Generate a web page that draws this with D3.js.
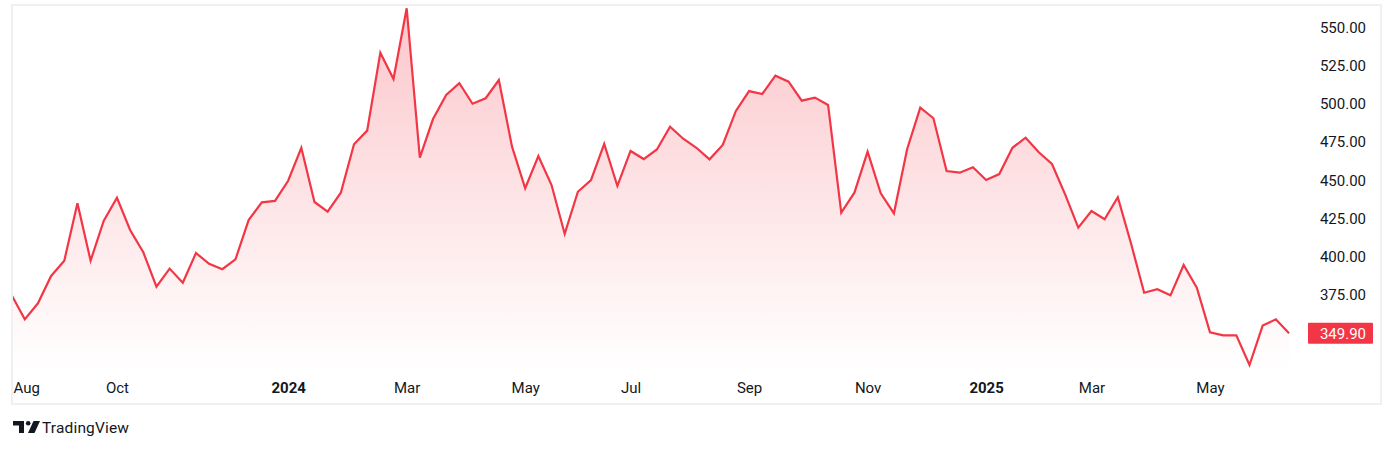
<!DOCTYPE html>
<html>
<head>
<meta charset="utf-8">
<script src="https://cdn.jsdelivr.net/npm/d3@7"></script>
<style>
  html, body { margin: 0; padding: 0; background: #ffffff; }
  svg { display: block; font-family: Roboto, "Noto Sans", sans-serif; }
</style>
</head>
<body>
<svg id="chart" width="1394" height="449"></svg>
<script>
// ---- data (weekly closes, first week Aug 7 2023) ----
const firstWeek = "2023-08-07";
const values = [
  374.9, 359.0, 369.5, 387.4, 397.4, 435.0, 397.4, 423.6, 438.6, 417.5,
  402.9, 380.4, 392.2, 383.0, 402.4, 395.4, 391.8, 398.3, 424.0, 435.6,
  436.5, 449.7, 471.3, 435.8, 429.5, 441.9, 473.6, 482.5, 533.5, 516.3,
  562.6, 464.8, 490.1, 505.8, 513.5, 500.1, 503.7, 515.6, 472.0, 444.8,
  465.9, 446.9, 414.9, 442.5, 450.2, 473.8, 446.3, 469.2, 463.9, 470.2,
  485.1, 477.2, 471.3, 463.7, 473.1, 495.4, 508.4, 506.5, 518.5, 514.5,
  502.1, 504.1, 499.3, 428.8, 441.9, 468.7, 441.5, 428.4, 470.3, 497.5,
  490.6, 456.1, 455.0, 458.5, 450.2, 454.1, 471.3, 477.9, 468.3, 460.7,
  440.8, 419.0, 429.9, 424.5, 438.9, 408.8, 376.4, 378.7, 374.7, 394.6,
  379.7, 350.5, 348.5, 348.5, 329.1, 354.9, 359.0, 349.9
];
const tickDates  = ["2023-08-07","2023-10-02","2024-01-01","2024-03-04","2024-05-06","2024-07-01","2024-09-02","2024-11-04","2025-01-06","2025-03-03","2025-05-05"];
const tickLabels = ["Aug","Oct","2024","Mar","May","Jul","Sep","Nov","2025","Mar","May"];
const boldTicks  = ["2024","2025"];
const priceTicks = [375, 400, 425, 450, 475, 500, 525, 550];
const lastPrice = 349.90;

// ---- build ----
const parse = d3.utcParse("%Y-%m-%d");
const start = parse(firstWeek);
const data = values.map((v, i) => ({ date: d3.utcWeek.offset(start, i), value: v }));

const svg = d3.select("#chart");
const frame = { left: 12, top: 5, right: 1381, bottom: 404 };
const pane = { left: 12, top: 5, right: 1300, bottom: 370 };

const x = d3.scaleUtc()
  .domain([data[0].date, data[data.length - 1].date])
  .range([11.6, 1289]);
const y = d3.scaleLinear()
  .domain([550, 375])
  .range([27.5, 294.9]);

const red = "#f23645";

// gradient
const defs = svg.append("defs");
const grad = defs.append("linearGradient")
  .attr("id", "areaGrad").attr("gradientUnits", "userSpaceOnUse")
  .attr("x1", 0).attr("x2", 0).attr("y1", y(d3.max(values))).attr("y2", pane.bottom);
grad.append("stop").attr("offset", "0%").attr("stop-color", red).attr("stop-opacity", 0.28);
grad.append("stop").attr("offset", "100%").attr("stop-color", red).attr("stop-opacity", 0.0);

defs.append("clipPath").attr("id", "paneClip")
  .append("rect").attr("x", pane.left).attr("y", pane.top)
  .attr("width", pane.right - pane.left).attr("height", pane.bottom - pane.top);

const g = svg.append("g").attr("clip-path", "url(#paneClip)");

const area = d3.area()
  .x(d => x(d.date)).y0(pane.bottom).y1(d => y(d.value));
g.append("path").datum(data).attr("d", area).attr("fill", "url(#areaGrad)");

const line = d3.line().x(d => x(d.date)).y(d => y(d.value));
g.append("path").datum(data).attr("d", line)
  .attr("fill", "none").attr("stroke", red).attr("stroke-width", 2.2)
  .attr("stroke-linejoin", "miter").attr("stroke-linecap", "butt");

// frame
svg.append("rect")
  .attr("x", frame.left).attr("y", frame.top)
  .attr("width", frame.right - frame.left).attr("height", frame.bottom - frame.top)
  .attr("fill", "none").attr("stroke", "#f0f0f0").attr("stroke-width", 2);

// y axis (price scale)
const yAxis = d3.axisRight(y).tickValues(priceTicks).tickFormat(d3.format(".2f")).tickSize(0);
const gy = svg.append("g").attr("transform", "translate(1366,0)").call(yAxis);
gy.select(".domain").remove();
gy.selectAll("text")
  .attr("x", 0).attr("dx", 0)
  .attr("text-anchor", "end")
  .attr("font-size", 15).attr("font-family", "Roboto, sans-serif")
  .attr("fill", "#131722");

// last price label
const ly = y(lastPrice);
svg.append("rect").attr("x", 1308).attr("y", ly - 10.5).attr("width", 65).attr("height", 21)
  .attr("rx", 1).attr("fill", red);
svg.append("text").attr("x", 1366).attr("y", ly).attr("dy", "0.35em")
  .attr("text-anchor", "end").attr("font-size", 15).attr("fill", "#ffffff")
  .text(d3.format(".2f")(lastPrice));

// x axis (time scale)
const tickDateObjs = tickDates.map(parse);
const xAxis = d3.axisBottom(x).tickValues(tickDateObjs)
  .tickFormat((d, i) => tickLabels[i]).tickSize(0);
const gx = svg.append("g").attr("transform", "translate(0,379)").call(xAxis);
gx.select(".domain").remove();
gx.selectAll("text")
  .attr("dy", "0.71em")
  .attr("font-size", 15).attr("font-family", "Roboto, sans-serif")
  .attr("fill", "#131722")
  .attr("font-weight", d => boldTicks.includes(tickLabels[tickDateObjs.findIndex(t => +t === +d)]) ? 700 : 400);
// keep labels inside the frame
gx.selectAll(".tick").each(function(d) {
  const t = d3.select(this).select("text");
  const w = this.querySelector("text").getComputedTextLength();
  const cx = x(d);
  if (cx - w / 2 < frame.left + 1) t.attr("x", frame.left + 1 + w / 2 - cx);
});

// TradingView logo
const logo = svg.append("g").attr("transform", "translate(13,421)").attr("fill", "#131722");
logo.append("path").attr("d", "M0 0 H11 V12 H6 V4.5 H0 Z");
logo.append("circle").attr("cx", 15.2).attr("cy", 2.3).attr("r", 2.3);
logo.append("path").attr("d", "M20.5 0 H27 L21.5 12 H15 Z");
svg.append("text").attr("x", 42).attr("y", 433)
  .attr("font-size", 15.5).attr("fill", "#131722")
  .attr("font-family", "Roboto, sans-serif")
  .attr("textLength", 87).attr("lengthAdjust", "spacing")
  .text("TradingView");
</script>
</body>
</html>
